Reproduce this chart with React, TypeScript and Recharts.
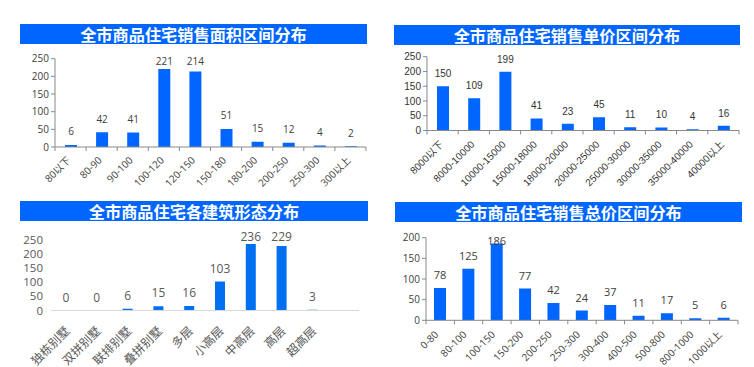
import React from 'react';
import { BarChart, Bar, XAxis, YAxis, LabelList } from 'recharts';

const areaCats = ['80以下', '80-90', '90-100', '100-120', '120-150', '150-180', '180-200', '200-250', '250-300', '300以上'];
const areaVals = [6, 42, 41, 221, 214, 51, 15, 12, 4, 2];

const unitCats = ['8000以下', '8000-10000', '10000-15000', '15000-18000', '18000-20000', '20000-25000', '25000-30000', '30000-35000', '35000-40000', '40000以上'];
const unitVals = [150, 109, 199, 41, 23, 45, 11, 10, 4, 16];

const formCats = ['独栋别墅', '双拼别墅', '联排别墅', '叠拼别墅', '多层', '小高层', '中高层', '高层', '超高层', ''];
const formVals: (number | null)[] = [0, 0, 6, 15, 16, 103, 236, 229, 3, null];

const totalCats = ['0-80', '80-100', '100-150', '150-200', '200-250', '250-300', '300-400', '400-500', '500-800', '800-1000', '1000以上'];
const totalVals = [78, 125, 186, 77, 42, 24, 37, 11, 17, 5, 6];

const ticks250 = [0, 50, 100, 150, 200, 250];
const ticks200 = [0, 50, 100, 150, 200];

const titles = ['全市商品住宅销售面积区间分布', '全市商品住宅销售单价区间分布', '全市商品住宅各建筑形态分布', '全市商品住宅销售总价区间分布'];

const build = (cats: string[], vals: (number | null)[]) => cats.map((name, i) => ({ name, value: vals[i] }));

const BLUE = '#0066ff';

type Cfg = {
  L: number; T: number; W: number; H: number;
  plotX: number; plotTop: number; plotBottom: number; plotRight: number;
  xh: number;
  data: { name: string; value: number | null }[];
  domainMax: number; yTicks: number[];
  font: string; tickFs: number; tickColor: string;
  xFs: number; xColor: string;
  valFs: number; valColor: string;
  labelOff: number; clampY: number;
  barSize: number; barColor: string;
  axisColor: string; showYAxisLine: boolean; boundaryTicks: boolean;
  ydx: number; ydy: number;
  yTickMargin: number;
  title: string; tL: number; tT: number; tW: number;
};

const makeTick = (c: Cfg) => (props: any) => {
  const { x, y, payload, index } = props;
  const n = c.data.length;
  const bw = (c.plotRight - c.plotX) / n;
  const tx = x + c.ydx;
  const ty = y + c.ydy;
  return (
    <g>
      {c.boundaryTicks && (
        <line x1={x - bw / 2} y1={y} x2={x - bw / 2} y2={y + 4} stroke={c.axisColor} />
      )}
      {c.boundaryTicks && index === n - 1 && (
        <line x1={x + bw / 2} y1={y} x2={x + bw / 2} y2={y + 4} stroke={c.axisColor} />
      )}
      <text
        x={tx}
        y={ty}
        transform={`rotate(-45, ${tx}, ${ty})`}
        textAnchor="end"
        dominantBaseline="central"
        fontSize={c.xFs}
        fill={c.xColor}
        fontFamily={c.font}
      >
        {payload.value}
      </text>
    </g>
  );
};

const makeLabel = (c: Cfg) => (props: any) => {
  const { x, y, width, height, value } = props;
  if (value === null || value === undefined) return null;
  const top = Math.min(Number(y), Number(y) + Number(height || 0));
  const ly = Math.max(top - c.labelOff, c.clampY - c.T);
  return (
    <text
      x={Number(x) + Number(width) / 2}
      y={ly}
      textAnchor="middle"
      dominantBaseline="central"
      fontSize={c.valFs}
      fill={c.valColor}
      fontFamily={c.font}
    >
      {value}
    </text>
  );
};

const Panel = ({ c }: { c: Cfg }) => {
  const margin = {
    top: c.plotTop - c.T,
    left: 0,
    right: c.L + c.W - c.plotRight,
    bottom: c.T + c.H - c.plotBottom - c.xh,
  };
  return (
    <>
      <div
        style={{
          position: 'absolute',
          left: c.tL,
          top: c.tT,
          width: c.tW,
          height: 20,
          background: BLUE,
          color: '#fff',
          fontFamily: "'Noto Sans CJK SC', sans-serif",
          fontWeight: 700,
          fontSize: 16.2,
          lineHeight: '20px',
          textAlign: 'center',
          whiteSpace: 'nowrap',
        }}
      >
        {c.title}
      </div>
      <div style={{ position: 'absolute', left: c.L, top: c.T }}>
        <BarChart width={c.W} height={c.H} data={c.data} margin={margin}>
          <XAxis
            dataKey="name"
            interval={0}
            tick={makeTick(c)}
            tickLine={false}
            tickSize={0}
            tickMargin={0}
            height={c.xh}
            axisLine={{ stroke: c.axisColor }}
          />
          <YAxis
            type="number"
            domain={[0, c.domainMax]}
            ticks={c.yTicks}
            interval={0}
            width={c.plotX - c.L}
            axisLine={c.showYAxisLine ? { stroke: c.axisColor } : false}
            tickLine={c.showYAxisLine ? { stroke: c.axisColor } : false}
            tickSize={c.showYAxisLine ? 4 : 0}
            tickMargin={c.yTickMargin}
            tick={{ fontSize: c.tickFs, fill: c.tickColor, fontFamily: c.font }}
            allowDataOverflow
          />
          <Bar
            dataKey="value"
            fill={c.barColor}
            barSize={c.barSize}
            isAnimationActive={false}
            minPointSize={(v: any) => (v === 0 ? 0.01 : 0)}
          >
            <LabelList dataKey="value" content={makeLabel(c)} />
          </Bar>
        </BarChart>
      </div>
    </>
  );
};

const FONT_A = "'Open Sans', 'Noto Sans CJK SC', sans-serif";
const FONT_B = "'Liberation Sans', Arial, 'Noto Sans CJK SC', sans-serif";

const cfgs: Cfg[] = [
  {
    L: 0, T: 0, W: 377, H: 190,
    plotX: 55, plotTop: 58.7, plotBottom: 147, plotRight: 366, xh: 40,
    data: build(areaCats, areaVals), domainMax: 250, yTicks: ticks250,
    font: FONT_A, tickFs: 10, tickColor: '#404040', xFs: 10, xColor: '#404040',
    valFs: 10, valColor: '#404040', labelOff: 13.5, clampY: 61,
    barSize: 12, barColor: BLUE, axisColor: '#898989', showYAxisLine: true, boundaryTicks: true,
    ydx: -2, ydy: 11, yTickMargin: 2,
    title: titles[0], tL: 20, tT: 24, tW: 347,
  },
  {
    L: 377, T: 0, W: 377, H: 190,
    plotX: 427, plotTop: 56.7, plotBottom: 130.5, plotRight: 739, xh: 50,
    data: build(unitCats, unitVals), domainMax: 250, yTicks: ticks250,
    font: FONT_B, tickFs: 10, tickColor: '#333', xFs: 10, xColor: '#333',
    valFs: 10, valColor: '#333', labelOff: 12.6, clampY: 40,
    barSize: 12, barColor: BLUE, axisColor: '#898989', showYAxisLine: true, boundaryTicks: true,
    ydx: -1, ydy: 12, yTickMargin: 2,
    title: titles[1], tL: 394, tT: 25, tW: 346,
  },
  {
    L: 0, T: 190, W: 377, H: 177,
    plotX: 51, plotTop: 240, plotBottom: 310.5, plotRight: 359, xh: 45,
    data: build(formCats, formVals), domainMax: 250, yTicks: ticks250,
    font: FONT_A, tickFs: 11.5, tickColor: '#595959', xFs: 12, xColor: '#595959',
    valFs: 12, valColor: '#595959', labelOff: 13.3, clampY: 236.7,
    barSize: 10, barColor: '#0070f0', axisColor: '#d9d9d9', showYAxisLine: false, boundaryTicks: false,
    ydx: 1, ydy: 18, yTickMargin: 8,
    title: titles[2], tL: 20, tT: 201, tW: 348,
  },
  {
    L: 377, T: 190, W: 377, H: 177,
    plotX: 426, plotTop: 237.7, plotBottom: 320.3, plotRight: 738, xh: 40,
    data: build(totalCats, totalVals), domainMax: 200, yTicks: ticks200,
    font: FONT_A, tickFs: 10, tickColor: '#404040', xFs: 10, xColor: '#404040',
    valFs: 11, valColor: '#404040', labelOff: 13.3, clampY: 240,
    barSize: 12, barColor: BLUE, axisColor: '#898989', showYAxisLine: true, boundaryTicks: true,
    ydx: -4, ydy: 12, yTickMargin: 2,
    title: titles[3], tL: 395, tT: 202, tW: 347,
  },
];

export default function App() {
  return (
    <div style={{ position: 'absolute', left: 0, top: 0, width: 754, height: 367, background: '#fff' }}>
      {cfgs.map((c, i) => (
        <Panel key={i} c={c} />
      ))}
    </div>
  );
}
